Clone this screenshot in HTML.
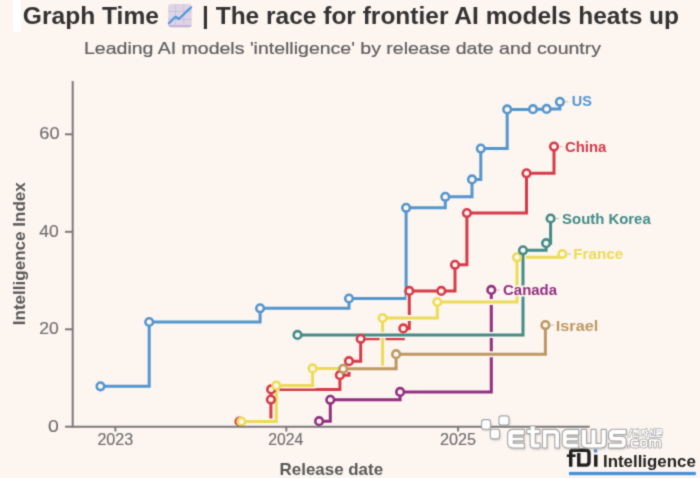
<!DOCTYPE html>
<html><head><meta charset="utf-8"><style>
html,body{margin:0;padding:0;background:#fdf5f0;}
body{width:700px;height:478px;overflow:hidden;position:relative;font-family:"Liberation Sans",sans-serif;}
svg{position:absolute;left:0;top:0;}
.lb{font-family:"Liberation Sans",sans-serif;font-weight:bold;font-size:14px;}
.tk{font-family:"Liberation Sans",sans-serif;font-size:15.5px;fill:#707070;}
</style></head><body>
<svg width="700" height="478" viewBox="0 0 700 478"><defs><filter id="gb" color-interpolation-filters="sRGB" x="0" y="0" width="700" height="478" filterUnits="userSpaceOnUse"><feConvolveMatrix order="3" kernelMatrix="0.03 0.1 0.03 0.1 0.48 0.1 0.03 0.1 0.03" edgeMode="duplicate" preserveAlpha="true"/></filter></defs><g filter="url(#gb)"><rect x="0" y="0" width="700" height="478" fill="#fdf5f0"/>
<rect x="13" y="0" width="8" height="32" fill="#ffffff"/>
<text x="22.80" y="23.6" font-size="24.5" font-weight="bold" fill="#333333" textLength="136.20" lengthAdjust="spacingAndGlyphs">Graph Time</text>
<g>
<rect x="168.2" y="4" width="23.5" height="23.2" rx="3.2" fill="#ddd4e7"/>
<path d="M168.2 25 H191.7 V24 Q191.7 27.2 188.5 27.2 H171.4 Q168.2 27.2 168.2 24 Z" fill="#c6b2d8"/>
<path d="M175.5 4 V27.2 M183.7 4 V27.2 M168.2 11.4 H191.7 M168.2 19.3 H191.7" stroke="#cbbcd4" stroke-width="0.7"/>
<path d="M168.9 23.3 L175.5 16.7 L178.8 19 L191 7.4" fill="none" stroke="#5298dc" stroke-width="2.3" stroke-linecap="round" stroke-linejoin="round"/>
</g>
<text x="202.00" y="23.6" font-size="24.5" font-weight="bold" fill="#333333" textLength="477.00" lengthAdjust="spacingAndGlyphs">| The race for frontier AI models heats up</text>
<text x="84.00" y="54.4" font-size="17.0" font-weight="normal" fill="#5e5e5e" textLength="517.00" lengthAdjust="spacingAndGlyphs" stroke="#5e5e5e" stroke-width="0.2">Leading AI models 'intelligence' by release date and country</text>
<path d="M100.5 386.3 H149.2 V322.0 H260.1 V308.3 H349.0 V298.5 H406.1 V207.8 H445.3 V196.8 H472.0 V179.4 H480.8 V148.6 H507.2 V109.4 H533.0 V109.2 H546.6 V108.9 H559.9 V101.8" fill="none" stroke="#fdf5f0" stroke-width="6.0"/><path d="M100.5 386.3 H149.2 V322.0 H260.1 V308.3 H349.0 V298.5 H406.1 V207.8 H445.3 V196.8 H472.0 V179.4 H480.8 V148.6 H507.2 V109.4 H533.0 V109.2 H546.6 V108.9 H559.9 V101.8" fill="none" stroke="#5596cd" stroke-width="3.0"/><path d="M239.5 421.5 H270.9 V399.6 H271.1 V389.4 H339.9 V375.2 H349.0 V361.2 H360.7 V338.8 H403.3 V328.4 H409.3 V290.9 H441.3 V290.9 H455.0 V264.8 H466.9 V213.1 H526.5 V173.3 H554.0 V146.6" fill="none" stroke="#fdf5f0" stroke-width="6.0"/><path d="M239.5 421.5 H270.9 V399.6 H271.1 V389.4 H339.9 V375.2 H349.0 V361.2 H360.7 V338.8 H403.3 V328.4 H409.3 V290.9 H441.3 V290.9 H455.0 V264.8 H466.9 V213.1 H526.5 V173.3 H554.0 V146.6" fill="none" stroke="#d63b48" stroke-width="3.0"/><path d="M319.1 421.2 H330.3 V399.8 H400.1 V391.9 H491.3 V289.9" fill="none" stroke="#fdf5f0" stroke-width="6.0"/><path d="M319.1 421.2 H330.3 V399.8 H400.1 V391.9 H491.3 V289.9" fill="none" stroke="#91307f" stroke-width="3.0"/><path d="M241.3 421.5 H276.3 V385.5 H312.6 V368.4 H382.6 V318.0 H437.3 V302.0 H517.0 V257.3 H562.4 V254.0" fill="none" stroke="#fdf5f0" stroke-width="6.0"/><path d="M241.3 421.5 H276.3 V385.5 H312.6 V368.4 H382.6 V318.0 H437.3 V302.0 H517.0 V257.3 H562.4 V254.0" fill="none" stroke="#ecdc55" stroke-width="3.0"/><path d="M297.5 334.9 H523.0 V250.3 H546.1 V243.2 H550.6 V218.5" fill="none" stroke="#fdf5f0" stroke-width="6.0"/><path d="M297.5 334.9 H523.0 V250.3 H546.1 V243.2 H550.6 V218.5" fill="none" stroke="#438c88" stroke-width="3.0"/><path d="M343.2 368.8 H396.1 V354.2 H545.4 V325.1" fill="none" stroke="#fdf5f0" stroke-width="6.0"/><path d="M343.2 368.8 H396.1 V354.2 H545.4 V325.1" fill="none" stroke="#bd9862" stroke-width="3.0"/><circle cx="100.5" cy="386.3" r="3.8" fill="#fdf5f0" stroke="#5596cd" stroke-width="2.6"/><circle cx="149.2" cy="322.0" r="3.8" fill="#fdf5f0" stroke="#5596cd" stroke-width="2.6"/><circle cx="260.1" cy="308.3" r="3.8" fill="#fdf5f0" stroke="#5596cd" stroke-width="2.6"/><circle cx="349.0" cy="298.5" r="3.8" fill="#fdf5f0" stroke="#5596cd" stroke-width="2.6"/><circle cx="406.1" cy="207.8" r="3.8" fill="#fdf5f0" stroke="#5596cd" stroke-width="2.6"/><circle cx="445.3" cy="196.8" r="3.8" fill="#fdf5f0" stroke="#5596cd" stroke-width="2.6"/><circle cx="472.0" cy="179.4" r="3.8" fill="#fdf5f0" stroke="#5596cd" stroke-width="2.6"/><circle cx="480.8" cy="148.6" r="3.8" fill="#fdf5f0" stroke="#5596cd" stroke-width="2.6"/><circle cx="507.2" cy="109.4" r="3.8" fill="#fdf5f0" stroke="#5596cd" stroke-width="2.6"/><circle cx="533.0" cy="109.2" r="3.8" fill="#fdf5f0" stroke="#5596cd" stroke-width="2.6"/><circle cx="546.6" cy="108.9" r="3.8" fill="#fdf5f0" stroke="#5596cd" stroke-width="2.6"/><circle cx="559.9" cy="101.8" r="3.8" fill="#fdf5f0" stroke="#5596cd" stroke-width="2.6"/><circle cx="239.5" cy="421.5" r="3.8" fill="#fdf5f0" stroke="#d63b48" stroke-width="2.6"/><circle cx="270.9" cy="399.6" r="3.8" fill="#fdf5f0" stroke="#d63b48" stroke-width="2.6"/><circle cx="271.1" cy="389.4" r="3.8" fill="#fdf5f0" stroke="#d63b48" stroke-width="2.6"/><circle cx="339.9" cy="375.2" r="3.8" fill="#fdf5f0" stroke="#d63b48" stroke-width="2.6"/><circle cx="349.0" cy="361.2" r="3.8" fill="#fdf5f0" stroke="#d63b48" stroke-width="2.6"/><circle cx="360.7" cy="338.8" r="3.8" fill="#fdf5f0" stroke="#d63b48" stroke-width="2.6"/><circle cx="403.3" cy="328.4" r="3.8" fill="#fdf5f0" stroke="#d63b48" stroke-width="2.6"/><circle cx="409.3" cy="290.9" r="3.8" fill="#fdf5f0" stroke="#d63b48" stroke-width="2.6"/><circle cx="441.3" cy="290.9" r="3.8" fill="#fdf5f0" stroke="#d63b48" stroke-width="2.6"/><circle cx="455.0" cy="264.8" r="3.8" fill="#fdf5f0" stroke="#d63b48" stroke-width="2.6"/><circle cx="466.9" cy="213.1" r="3.8" fill="#fdf5f0" stroke="#d63b48" stroke-width="2.6"/><circle cx="526.5" cy="173.3" r="3.8" fill="#fdf5f0" stroke="#d63b48" stroke-width="2.6"/><circle cx="554.0" cy="146.6" r="3.8" fill="#fdf5f0" stroke="#d63b48" stroke-width="2.6"/><circle cx="319.1" cy="421.2" r="3.8" fill="#fdf5f0" stroke="#91307f" stroke-width="2.6"/><circle cx="330.3" cy="399.8" r="3.8" fill="#fdf5f0" stroke="#91307f" stroke-width="2.6"/><circle cx="400.1" cy="391.9" r="3.8" fill="#fdf5f0" stroke="#91307f" stroke-width="2.6"/><circle cx="491.3" cy="289.9" r="3.8" fill="#fdf5f0" stroke="#91307f" stroke-width="2.6"/><circle cx="241.3" cy="421.5" r="3.8" fill="#fdf5f0" stroke="#ecdc55" stroke-width="2.6"/><circle cx="276.3" cy="385.5" r="3.8" fill="#fdf5f0" stroke="#ecdc55" stroke-width="2.6"/><circle cx="312.6" cy="368.4" r="3.8" fill="#fdf5f0" stroke="#ecdc55" stroke-width="2.6"/><circle cx="382.6" cy="318.0" r="3.8" fill="#fdf5f0" stroke="#ecdc55" stroke-width="2.6"/><circle cx="437.3" cy="302.0" r="3.8" fill="#fdf5f0" stroke="#ecdc55" stroke-width="2.6"/><circle cx="517.0" cy="257.3" r="3.8" fill="#fdf5f0" stroke="#ecdc55" stroke-width="2.6"/><circle cx="562.4" cy="254.0" r="3.8" fill="#fdf5f0" stroke="#ecdc55" stroke-width="2.6"/><circle cx="297.5" cy="334.9" r="3.8" fill="#fdf5f0" stroke="#438c88" stroke-width="2.6"/><circle cx="523.0" cy="250.3" r="3.8" fill="#fdf5f0" stroke="#438c88" stroke-width="2.6"/><circle cx="546.1" cy="243.2" r="3.8" fill="#fdf5f0" stroke="#438c88" stroke-width="2.6"/><circle cx="550.6" cy="218.5" r="3.8" fill="#fdf5f0" stroke="#438c88" stroke-width="2.6"/><circle cx="343.2" cy="368.8" r="3.8" fill="#fdf5f0" stroke="#bd9862" stroke-width="2.6"/><circle cx="396.1" cy="354.2" r="3.8" fill="#fdf5f0" stroke="#bd9862" stroke-width="2.6"/><circle cx="545.4" cy="325.1" r="3.8" fill="#fdf5f0" stroke="#bd9862" stroke-width="2.6"/><path d="M72.7 81 V426.7 H589.7" fill="none" stroke="#7a7a7a" stroke-width="2.0"/><line x1="65" y1="426.7" x2="72.7" y2="426.7" stroke="#7a7a7a" stroke-width="2"/><line x1="65" y1="329.3" x2="72.7" y2="329.3" stroke="#7a7a7a" stroke-width="2"/><line x1="65" y1="231.8" x2="72.7" y2="231.8" stroke="#7a7a7a" stroke-width="2"/><line x1="65" y1="134.3" x2="72.7" y2="134.3" stroke="#7a7a7a" stroke-width="2"/><line x1="115.4" y1="426.7" x2="115.4" y2="431.5" stroke="#7a7a7a" stroke-width="2"/><line x1="286.3" y1="426.7" x2="286.3" y2="431.5" stroke="#7a7a7a" stroke-width="2"/><line x1="458.1" y1="426.7" x2="458.1" y2="431.5" stroke="#7a7a7a" stroke-width="2"/>
<text x="39.30" y="139.2" font-size="15.6" font-weight="normal" fill="#707070" textLength="20.20" lengthAdjust="spacingAndGlyphs" stroke="#707070" stroke-width="0.15">60</text><text x="39.30" y="236.9" font-size="15.6" font-weight="normal" fill="#707070" textLength="19.50" lengthAdjust="spacingAndGlyphs" stroke="#707070" stroke-width="0.15">40</text><text x="39.30" y="334.4" font-size="15.6" font-weight="normal" fill="#707070" textLength="19.50" lengthAdjust="spacingAndGlyphs" stroke="#707070" stroke-width="0.15">20</text><text x="48.00" y="432.0" font-size="15.6" font-weight="normal" fill="#707070" textLength="10.80" lengthAdjust="spacingAndGlyphs" stroke="#707070" stroke-width="0.15">0</text><text x="97.40" y="444.6" font-size="15.6" font-weight="normal" fill="#707070" textLength="35.90" lengthAdjust="spacingAndGlyphs" stroke="#707070" stroke-width="0.15">2023</text><text x="268.30" y="444.6" font-size="15.6" font-weight="normal" fill="#707070" textLength="35.10" lengthAdjust="spacingAndGlyphs" stroke="#707070" stroke-width="0.15">2024</text><text x="439.90" y="444.6" font-size="15.6" font-weight="normal" fill="#707070" textLength="36.10" lengthAdjust="spacingAndGlyphs" stroke="#707070" stroke-width="0.15">2025</text>
<text x="279.60" y="475.4" font-size="16.3" font-weight="bold" fill="#595959" textLength="103.50" lengthAdjust="spacingAndGlyphs">Release date</text>
<text transform="translate(24.6 253.7) rotate(-90)" text-anchor="middle" font-size="16.2" font-weight="bold" fill="#595959" textLength="143" lengthAdjust="spacingAndGlyphs">Intelligence Index</text>
<path d="M550.7 325.1 H553.7" stroke="#c4b9b9" stroke-width="1.1"/><path d="M496.6 289.9 H499.6" stroke="#c4b9b9" stroke-width="1.1"/><path d="M567.7 254.0 H570.7" stroke="#c4b9b9" stroke-width="1.1"/><path d="M555.9 218.5 H558.9" stroke="#c4b9b9" stroke-width="1.1"/><path d="M559.3 146.6 H562.3" stroke="#c4b9b9" stroke-width="1.1"/><path d="M565.2 101.8 H568.2" stroke="#c4b9b9" stroke-width="1.1"/><text x="571.70" y="106.3" font-size="14.6" font-weight="bold" fill="#5596cd" textLength="20.10" lengthAdjust="spacingAndGlyphs" stroke="#fdf5f0" stroke-width="3" paint-order="stroke">US</text><text x="564.90" y="151.5" font-size="14.6" font-weight="bold" fill="#d63b48" textLength="41.40" lengthAdjust="spacingAndGlyphs" stroke="#fdf5f0" stroke-width="3" paint-order="stroke">China</text><text x="562.10" y="223.5" font-size="14.6" font-weight="bold" fill="#438c88" textLength="88.60" lengthAdjust="spacingAndGlyphs" stroke="#fdf5f0" stroke-width="3" paint-order="stroke">South Korea</text><text x="573.20" y="259.1" font-size="14.6" font-weight="bold" fill="#ecdc55" textLength="50.00" lengthAdjust="spacingAndGlyphs" stroke="#fdf5f0" stroke-width="3" paint-order="stroke">France</text><text x="503.10" y="295.0" font-size="14.6" font-weight="bold" fill="#91307f" textLength="53.90" lengthAdjust="spacingAndGlyphs" stroke="#fdf5f0" stroke-width="3" paint-order="stroke">Canada</text><text x="555.80" y="330.6" font-size="14.6" font-weight="bold" fill="#bd9862" textLength="42.50" lengthAdjust="spacingAndGlyphs" stroke="#fdf5f0" stroke-width="3" paint-order="stroke">Israel</text>

<g id="fdi">
<path d="M570.7 466.7 V452.5 Q570.7 450.3 572.9 450.3 H586 Q589 450.3 589 453.3 V462.1 Q589 465.1 586 465.1 H578.8 V453" fill="none" stroke="#1f1f1f" stroke-width="3.4"/>
<path d="M566.8 455.7 H575.6" stroke="#1f1f1f" stroke-width="2.6"/>
<path d="M595.8 454.7 V466.7" stroke="#1f1f1f" stroke-width="3.5"/>
<rect x="593.9" y="449.2" width="3.3" height="3.3" fill="#4a90d9"/>
<text x="603.00" y="467.1" font-size="16.0" font-weight="bold" fill="#222222" textLength="92.80" lengthAdjust="spacingAndGlyphs">Intelligence</text>
<rect x="569" y="471.9" width="126.8" height="3.3" fill="#4a90d9"/>
</g>
<g id="wm">
<defs><filter id="sh" x="-10%" y="-30%" width="130%" height="160%"><feGaussianBlur stdDeviation="1"/></filter>
<g id="wmp">
<path d="M524.4 429.4 H513 Q507.6 429.4 507.6 434.8 V442.6 Q507.6 448 513 448 H524.4 V443.1 H513.3 V440.9 H523.9 V437.1 H513.3 V435.1 H524.4 Z"/>
<path d="M530.1 426 H535.3 V429.4 H539.9 V433.6 H535.3 V443.1 H540 V448 H533.6 Q530.1 448 530.1 444.5 V433.6 H526.7 V429.4 H530.1 Z"/>
<path d="M542.4 448 V429.4 H554.3 Q559.5 429.4 559.5 434.6 V448 H554.8 V434.4 H547 V448 Z"/>
<path d="M578.8 429.4 H567.6 Q562.2 429.4 562.2 434.8 V442.6 Q562.2 448 567.6 448 H578.8 V443.1 H567.2 V440.9 H578.3 V437.1 H567.2 V435.1 H578.8 Z"/>
<path d="M581.3 429.4 H586.5 V443.4 H591 V429.4 H596 V443.4 H601.1 V429.4 H606.3 V442.6 Q606.3 448 600.9 448 H586.7 Q581.3 448 581.3 442.6 Z"/>
<path d="M626.3 429.3 H613.8 Q608.5 429.3 608.5 434.6 V436.3 Q608.5 441.1 613.3 441.1 H621.1 V443.3 H608.5 V448.1 H621.3 Q626.3 448.1 626.3 443.1 V441.3 Q626.3 436.3 621.3 436.3 H613.8 V434.5 H626.3 Z"/>
<rect x="481.6" y="419.6" width="8.9" height="9.6" rx="2.3"/>
<rect x="490.3" y="429.3" width="9.3" height="9.6" rx="2.3"/>
<rect x="499" y="415.9" width="10" height="9.1" rx="2.3"/>
</g></defs>
<g transform="translate(0.8 1.4)" fill="#8a8a8a" opacity="0.5" filter="url(#sh)"><use href="#wmp"/></g>
<g fill="#ffffff" stroke="#a5a5a5" stroke-width="1.1" stroke-linejoin="round"><use href="#wmp"/></g>
<g fill="none" stroke-linejoin="round" stroke-linecap="round"><g stroke="#a8a8a8" stroke-width="2.6"><path d="M631.6 429.4 L628.8 436.4"/><path transform="translate(632.8 429.4) scale(0.95 1.08)" d="M0.5 0.8 H3.5 M2 0.8 L0.5 3.5 M2 0.8 L3.5 3.5 M4 2 H5.5 M5.5 0 V4.5 M1 4.5 V6.5 H6"/><path transform="translate(641.2 429.4) scale(0.95 1.08)" d="M0.5 1 H4 M2.2 1 L0.5 5.5 M2.2 1 L4 5.5 M5.5 0 V6.5 M5.5 3 H6.8"/><path transform="translate(649.2 429.4) scale(0.95 1.08)" d="M2 0.5 L0.5 3.5 M2 0.5 L3.5 3.5 M5.5 0 V4.5 M1 4.5 V6.5 H6"/><path transform="translate(656.0 429.4) scale(0.95 1.08)" d="M1 0.3 H5.5 V2.3 H1 Z M0.3 3.8 H6.3 M3.3 3.8 V4.8 M1 5 V6.5 H5.5"/></g><g stroke="#ffffff" stroke-width="1.3"><path d="M631.6 429.4 L628.8 436.4"/><path transform="translate(632.8 429.4) scale(0.95 1.08)" d="M0.5 0.8 H3.5 M2 0.8 L0.5 3.5 M2 0.8 L3.5 3.5 M4 2 H5.5 M5.5 0 V4.5 M1 4.5 V6.5 H6"/><path transform="translate(641.2 429.4) scale(0.95 1.08)" d="M0.5 1 H4 M2.2 1 L0.5 5.5 M2.2 1 L4 5.5 M5.5 0 V6.5 M5.5 3 H6.8"/><path transform="translate(649.2 429.4) scale(0.95 1.08)" d="M2 0.5 L0.5 3.5 M2 0.5 L3.5 3.5 M5.5 0 V4.5 M1 4.5 V6.5 H6"/><path transform="translate(656.0 429.4) scale(0.95 1.08)" d="M1 0.3 H5.5 V2.3 H1 Z M0.3 3.8 H6.3 M3.3 3.8 V4.8 M1 5 V6.5 H5.5"/></g></g><g fill="#ffffff" stroke="#a5a5a5" stroke-width="0.9" stroke-linejoin="round" fill-rule="evenodd">
<rect x="627.5" y="445.3" width="2.2" height="2.7"/>
<path d="M638.7 438.9 H633.5 Q630.3 438.9 630.3 442.1 V444.8 Q630.3 448 633.5 448 H638.7 V445.4 H633 V441.5 H638.7 Z"/>
<path d="M642.8 438.9 H644.5 Q647.8 438.9 647.8 442.2 V444.7 Q647.8 448 644.5 448 H642.8 Q639.5 448 639.5 444.7 V442.2 Q639.5 438.9 642.8 438.9 Z M642.2 441.5 V445.4 H645.1 V441.5 Z"/>
<path d="M648.7 448 V438.9 H658 Q661.3 438.9 661.3 442.2 V448 H658.7 V441.5 H656.3 V448 H653.7 V441.5 H651.3 V448 Z"/>
</g>
</g>
</g></svg>
</body></html>
